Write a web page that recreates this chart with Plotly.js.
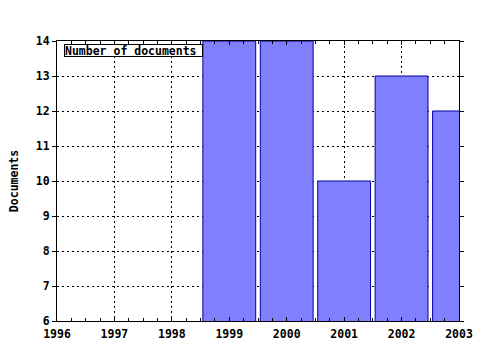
<!DOCTYPE html>
<html>
<head>
<meta charset="utf-8">
<script src="https://cdn.plot.ly/plotly-3.0.1.min.js"></script>
<style>html,body{margin:0;padding:0;background:#fff;}#chart{width:480px;height:350px;}</style>
</head>
<body>
<div id="chart"></div>
<script>
const years = [1999, 2000, 2001, 2002, 2003];
const documents = [14, 14, 10, 13, 12];
const xTicks = [1996, 1997, 1998, 1999, 2000, 2001, 2002, 2003];
const yTicks = [6, 7, 8, 9, 10, 11, 12, 13, 14];
const seriesName = 'Number of documents';

const FONT = 'DejaVu Sans Mono, monospace';
const trace = {
  type: 'bar',
  x: years,
  y: documents,
  width: 0.92,
  name: seriesName,
  marker: {color: '#8080ff', line: {color: '#0000a0', width: 1}},
  hoverinfo: 'skip'
};
const axisCommon = {
  showline: true, linecolor: '#000', linewidth: 1, mirror: 'ticks',
  showgrid: true, gridcolor: '#000', gridwidth: 1, griddash: '2px,3px',
  zeroline: false, tickcolor: '#000', ticklen: 4, tickwidth: 1,
  tickfont: {family: FONT, size: 11.5, color: '#000', weight: 'bold'}
};
const layout = {
  width: 480, height: 350,
  margin: {l: 57, r: 21, t: 41, b: 29},
  paper_bgcolor: '#fff', plot_bgcolor: '#fff',
  showlegend: false,
  bargap: 0,
  xaxis: Object.assign({}, axisCommon, {
    range: [1996, 2003], tickvals: xTicks, ticktext: xTicks.map(String),
    ticks: 'inside', ticklabelstandoff: 2,
    minor: {dtick: 0.25, ticks: 'inside', ticklen: 3, tickcolor: '#000', showgrid: false}
  }),
  yaxis: Object.assign({}, axisCommon, {
    range: [6, 14], tickvals: yTicks, ticktext: yTicks.map(String),
    ticks: 'outside',
    title: {text: 'Documents', font: {family: FONT, size: 11.5, color: '#000', weight: 'bold'}, standoff: 14}
  }),
  annotations: [{
    xref: 'paper', yref: 'paper', x: 0.0174, y: 0.989,
    xanchor: 'left', yanchor: 'top',
    text: seriesName, showarrow: false, align: 'left',
    width: 137, height: 11,
    bgcolor: '#fff', bordercolor: '#000', borderwidth: 1, borderpad: 0,
    font: {family: FONT, size: 11.5, color: '#000', weight: 'bold'}
  }]
};
Plotly.newPlot('chart', [trace], layout, {staticPlot: true, displayModeBar: false});
</script>
</body>
</html>
